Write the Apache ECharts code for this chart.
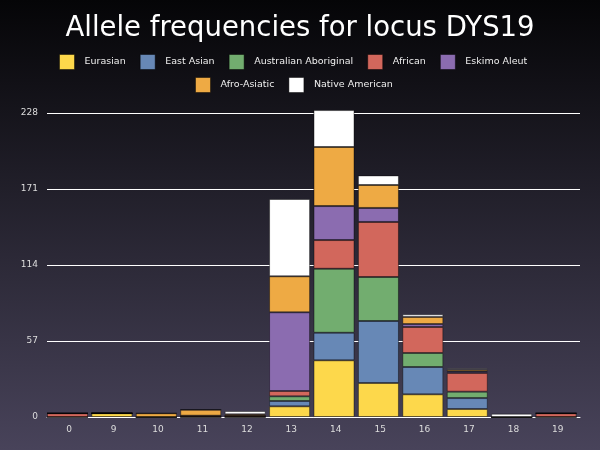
<!DOCTYPE html>
<html>
<head>
<meta charset="utf-8">
<script src="https://cdn.jsdelivr.net/npm/echarts@6/dist/echarts.min.js"></script>
<style>
  html, body { margin: 0; padding: 0; background: #000; }
  #chart { width: 600px; height: 450px; }
</style>
</head>
<body>
<div id="chart"></div>
<script>
// 等位基因（alleles）
var alleles = ['0', '9', '10', '11', '12', '13', '14', '15', '16', '17', '18', '19'];

// 每个人群的频数
var eurasian      = [0,   2.8, 0,   0,   0,   8,   42.5, 25.5, 17,   6,   0,   0];
var eastAsian     = [0,   0,   0,   0,   0,   4,   20.7, 46.5, 20.5, 8.2, 0,   0];
var australian    = [0,   0,   0,   0,   0,   3.5, 48,   33,   10.5, 4.8, 0,   0];
var african       = [2.8, 0,   0,   1,   1,   4,   21.5, 41.3, 19.5, 14,  0,   2.8];
var eskimoAleut   = [0,   0,   0,   0,   0,   59,  25.5, 10.5, 2.2,  1.2, 0,   0];
var afroAsiatic   = [0,   0,   2.8, 4.5, 1,   27,  44.3, 17.2, 5.3,  1.3, 0,   0];
var nativeAmerican= [0,   0,   0,   0,   2.5, 58,  27.7, 7.2,  2,    1,   2.5, 0];

var yTicks = [0, 57, 114, 171, 228];

var seriesNames = ['Eurasian', 'East Asian', 'Australian Aboriginal', 'African', 'Eskimo Aleut', 'Afro-Asiatic', 'Native American'];
var seriesData = [eurasian, eastAsian, australian, african, eskimoAleut, afroAsiatic, nativeAmerican];
var colors = ['#fdd84b', '#6788b6', '#72ad6f', '#d2675c', '#8b6cb0', '#eeaa44', '#ffffff'];

var chart = echarts.init(document.getElementById('chart'));

var series = [];
for (var i = 0; i < seriesNames.length; i++) {
  series.push({
    name: seriesNames[i],
    type: 'bar',
    stack: 'total',
    clip: false,
    barWidth: 41,
    barGap: '0%',
    data: seriesData[i],
    itemStyle: {
      color: colors[i],
      borderColor: 'rgba(0,0,0,0.4)',
      borderWidth: 1
    }
  });
}
// 空的占位系列，让柱子靠左对齐（像原图）
series.push({
  name: 'pad',
  type: 'bar',
  stack: 'pad',
  barWidth: 3.4,
  barGap: '0%',
  data: alleles.map(function () { return '-'; })
});

var legendText = { color: '#eeeeee', fontSize: 9.5, fontFamily: 'DejaVu Sans', padding: [0, 0, 0, 5] };
var legendIcon = { borderColor: 'rgba(0,0,0,0.45)', borderWidth: 1 };

option = {
  backgroundColor: {
    type: 'linear', x: 0, y: 0, x2: 0, y2: 1,
    colorStops: [
      { offset: 0, color: '#050507' },
      { offset: 1, color: '#48435a' }
    ]
  },
  color: colors,
  title: {
    text: 'Allele frequencies for locus DYS19',
    left: 'center',
    top: 10,
    textStyle: { color: '#ffffff', fontSize: 27.5, fontWeight: 'normal', fontFamily: 'DejaVu Sans' }
  },
  legend: [
    {
      data: seriesNames.slice(0, 5),
      top: 54,
      left: 59,
      padding: 0,
      itemWidth: 15,
      itemHeight: 15,
      itemGap: 14,
      icon: 'rect',
      itemStyle: legendIcon,
      textStyle: legendText
    },
    {
      data: seriesNames.slice(5),
      top: 77,
      left: 195,
      padding: 0,
      itemWidth: 15,
      itemHeight: 15,
      itemGap: 14,
      icon: 'rect',
      itemStyle: legendIcon,
      textStyle: legendText
    }
  ],
  grid: { left: 47, right: 20, top: 113, bottom: 33 },
  xAxis: {
    type: 'category',
    data: alleles,
    axisLine: { show: true, lineStyle: { color: '#ffffff', width: 1 } },
    axisTick: { show: false },
    axisLabel: { color: '#dddddd', fontSize: 9, fontFamily: 'DejaVu Sans', margin: 8 }
  },
  yAxis: {
    type: 'value',
    min: yTicks[0],
    max: yTicks[yTicks.length - 1],
    interval: yTicks[1] - yTicks[0],
    axisLine: { show: false },
    axisTick: { show: false },
    axisLabel: { color: '#dddddd', fontSize: 9, fontFamily: 'DejaVu Sans', margin: 9 },
    splitLine: { lineStyle: { color: '#ffffff', width: 1 } }
  },
  series: series
};

chart.setOption(option);
</script>
</body>
</html>
